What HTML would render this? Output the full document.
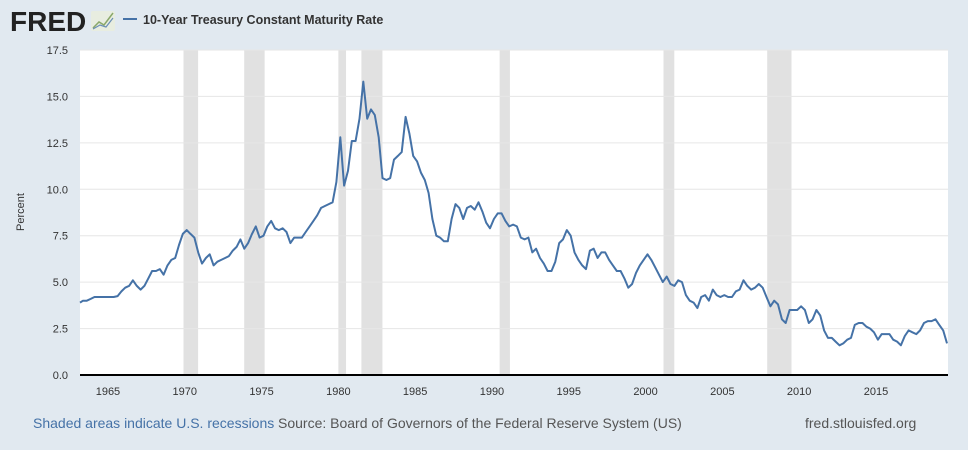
<!DOCTYPE html>
<html><head><meta charset="utf-8"><style>
body{margin:0;background:#e1e9f0;width:968px;height:450px;overflow:hidden;font-family:"Liberation Sans",sans-serif}
svg{display:block}
</style></head><body>
<svg width="968" height="450" id="c">
<rect x="0" y="0" width="968" height="450" fill="#e1e9f0"/>
<g>
<text x="10" y="31" font-size="28" font-weight="bold" fill="#222" font-family="Liberation Sans, sans-serif" letter-spacing="0">FRED</text>
<rect x="91" y="11" width="24" height="20" fill="#e8ede0" rx="2"/>
<polyline points="93,28 99,22 104,25 113,13" fill="none" stroke="#8aa86a" stroke-width="1.5"/>
<polyline points="93,29 100,25 106,27 113,18" fill="none" stroke="#6a8fb6" stroke-width="1.2"/>
</g>
<g>
<line x1="123" y1="19" x2="137" y2="19" stroke="#4572a7" stroke-width="2"/>
<text x="143" y="24" font-size="12.5" font-weight="bold" fill="#333">10-Year Treasury Constant Maturity Rate</text>
</g>
<rect x="80" y="50" width="868" height="325" fill="#fff"/>
<g id="rec"></g><g id="grid"></g><g id="xt"></g><g id="yt"></g><g id="ser"></g>
<line x1="80" y1="375" x2="948" y2="375" stroke="#000" stroke-width="2"/>
<text x="24" y="212" font-size="11" fill="#333" text-anchor="middle" transform="rotate(-90 24 212)">Percent</text>
<text x="33" y="428" font-size="14" fill="#4572a7">Shaded areas indicate U.S. recessions</text>
<text x="278" y="428" font-size="14" fill="#555">Source: Board of Governors of the Federal Reserve System (US)</text>
<text x="805" y="428" font-size="14" fill="#555">fred.stlouisfed.org</text>
</svg>
<script>
const yTicks=[0,2.5,5,7.5,10,12.5,15,17.5];
const yTickLabels=["0.0","2.5","5.0","7.5","10.0","12.5","15.0","17.5"];
const xTicks=[1965,1970,1975,1980,1985,1990,1995,2000,2005,2010,2015];
const recessions=[[1969.92,1970.87],[1973.87,1975.2],[1980.0,1980.5],[1981.5,1982.87],[1990.5,1991.17],[2001.17,2001.87],[2007.92,2009.5]];
const startYear=1963;
const rates=[3.9,4.0,4.0,4.1, 4.2,4.2,4.2,4.2, 4.2,4.2,4.25,4.5, 4.7,4.8,5.1,4.8, 4.6,4.8,5.2,5.6, 5.6,5.7,5.4,5.9, 6.2,6.3,7.0,7.6, 7.8,7.6,7.4,6.6, 6.0,6.3,6.5,5.9, 6.1,6.2,6.3,6.4, 6.7,6.9,7.3,6.8, 7.1,7.6,8.0,7.4, 7.5,8.0,8.3,7.9, 7.8,7.9,7.7,7.1, 7.4,7.4,7.4,7.7, 8.0,8.3,8.6,9.0, 9.1,9.2,9.3,10.4, 12.8,10.2,11.0,12.6, 12.6,13.8,15.8,13.8, 14.3,14.0,12.8,10.6, 10.5,10.6,11.6,11.8, 12.0,13.9,13.0,11.8, 11.5,10.9,10.5,9.8, 8.4,7.5,7.4,7.2, 7.2,8.4,9.2,9.0, 8.4,9.0,9.1,8.9, 9.3,8.8,8.2,7.9, 8.4,8.7,8.7,8.3, 8.0,8.1,8.0,7.4, 7.3,7.4,6.6,6.8, 6.3,6.0,5.6,5.6, 6.1,7.1,7.3,7.8, 7.5,6.6,6.2,5.9, 5.7,6.7,6.8,6.3, 6.6,6.6,6.2,5.9, 5.6,5.6,5.2,4.7, 4.9,5.5,5.9,6.2, 6.5,6.2,5.8,5.4, 5.0,5.3,4.9,4.8, 5.1,5.0,4.3,4.0, 3.9,3.6,4.2,4.3, 4.0,4.6,4.3,4.2, 4.3,4.2,4.2,4.5, 4.6,5.1,4.8,4.6, 4.7,4.9,4.7,4.2, 3.7,4.0,3.8,3.0, 2.8,3.5,3.5,3.5, 3.7,3.5,2.8,3.0, 3.5,3.2,2.4,2.0, 2.0,1.8,1.6,1.7, 1.9,2.0,2.7,2.8, 2.8,2.6,2.5,2.3, 1.9,2.2,2.2,2.2, 1.9,1.8,1.6,2.1, 2.4,2.3,2.2,2.4, 2.8,2.9,2.9,3.0, 2.7,2.4,1.7];
const NS="http://www.w3.org/2000/svg";
const X0=80,X1=948,Y0=375,Y1=50,xMin=1963.18,xMax=2019.69,yMax=17.5;
const xs=v=>X0+(v-xMin)/(xMax-xMin)*(X1-X0);
const ys=v=>Y0-v/yMax*(Y0-Y1);
function mk(t,a,p){const e=document.createElementNS(NS,t);for(const k in a)e.setAttribute(k,a[k]);p.appendChild(e);return e;}
const rec=document.getElementById('rec');
recessions.forEach(r=>{const e=mk('rect',{x:xs(r[0]),y:Y1,width:xs(r[1])-xs(r[0]),height:Y0-Y1,fill:'#e1e1e1'},rec);

});
const grid=document.getElementById('grid'),yt=document.getElementById('yt');
yTicks.forEach((v,i)=>{if(v>0){const g=mk('line',{x1:X0,x2:X1,y1:ys(v),y2:ys(v),stroke:'#e6e6e6','stroke-width':1},grid);

}
const t=mk('text',{x:68,y:ys(v)+4,'font-size':11,fill:'#333','text-anchor':'end'},yt);t.textContent=yTickLabels[i];

});
const xt=document.getElementById('xt');
xTicks.forEach(v=>{const t=mk('text',{x:xs(v),y:395,'font-size':11,fill:'#333','text-anchor':'middle'},xt);t.textContent=v;

});
let pts=[];rates.forEach((v,i)=>{let yr=startYear+i*0.25+0.125;if(yr<xMin)yr=xMin;if(yr>xMax)yr=xMax;pts.push(xs(yr).toFixed(1)+','+ys(v).toFixed(1));});
const pl=mk('polyline',{points:pts.join(' '),fill:'none',stroke:'#4572a7','stroke-width':2,'stroke-linejoin':'round'},document.getElementById('ser'));


</script>
</body></html>
